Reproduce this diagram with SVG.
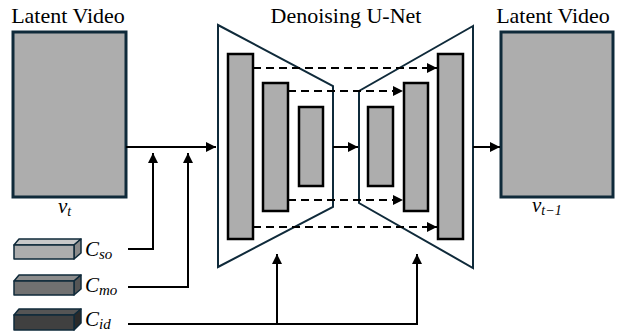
<svg xmlns="http://www.w3.org/2000/svg" width="618" height="335" viewBox="0 0 618 335">
  <defs>
    <marker id="ah" viewBox="0 0 10 10" refX="10" refY="5" markerWidth="10" markerHeight="10" markerUnits="userSpaceOnUse" orient="auto">
      <path d="M0,0 L10,5 L0,10 z" fill="#000"/>
    </marker>
  </defs>

  <!-- input latent -->
  <g id="latent-in">
    <text x="68" y="23" text-anchor="middle" font-family="Liberation Serif" font-size="22">Latent Video</text>
    <rect x="13" y="32" width="113" height="165" fill="#adadad" stroke="#0f2a3a" stroke-width="3"/>
    <text x="58" y="213" font-family="Liberation Serif" font-style="italic" font-size="21">v<tspan font-size="14" dy="3">t</tspan></text>
  </g>

  <!-- U-Net: encoder / decoder outlines and feature bars -->
  <g id="unet">
    <text x="346" y="23" text-anchor="middle" font-family="Liberation Serif" font-size="22">Denoising U-Net</text>
    <g fill="#fff" stroke="#0f2a3a" stroke-width="2">
      <polygon points="218,25 333,86 333,207 218,267"/>
      <polygon points="473,26 359,91 359,203 473,268"/>
    </g>
    <g fill="#adadad" stroke="#000" stroke-width="2.5">
      <rect x="228" y="54" width="25" height="185"/>
      <rect x="263" y="83" width="25" height="128"/>
      <rect x="299" y="107" width="24" height="79"/>
      <rect x="368" y="107" width="25" height="79"/>
      <rect x="404" y="83" width="24" height="128"/>
      <rect x="438" y="54" width="25" height="185"/>
    </g>
  </g>

  <!-- output latent -->
  <g id="latent-out">
    <text x="553" y="23" text-anchor="middle" font-family="Liberation Serif" font-size="22">Latent Video</text>
    <rect x="501" y="32" width="112" height="165" fill="#adadad" stroke="#0f2a3a" stroke-width="3"/>
    <text x="532" y="212" font-family="Liberation Serif" font-style="italic" font-size="21">v<tspan font-size="14" dy="3">t&#8722;1</tspan></text>
  </g>

  <!-- condition embeddings (small 3D bars) -->
  <g id="cond-so" stroke="#0f2a3a" stroke-width="1.5" stroke-linejoin="round">
    <polygon fill="#c8c8c8" points="14,245 19,239 81,239 74,245"/>
    <polygon fill="#8a8a8a" points="74,245 81,239 81,253 74,259"/>
    <rect fill="#adadad" x="14" y="245" width="60" height="14"/>
    <text x="85" y="256" stroke="none" font-family="Liberation Serif" font-style="italic" font-size="21">C<tspan font-size="15" dy="3">so</tspan></text>
  </g>
  <g id="cond-mo" stroke="#0f2a3a" stroke-width="1.5" stroke-linejoin="round">
    <polygon fill="#8c8c8c" points="14,281 19,275 81,275 74,281"/>
    <polygon fill="#555" points="74,281 81,275 81,289 74,295"/>
    <rect fill="#717171" x="14" y="281" width="60" height="14"/>
    <text x="85" y="292" stroke="none" font-family="Liberation Serif" font-style="italic" font-size="21">C<tspan font-size="15" dy="3">mo</tspan></text>
  </g>
  <g id="cond-id" stroke="#0f2a3a" stroke-width="1.5" stroke-linejoin="round">
    <polygon fill="#555" points="14,315 19,309 81,309 74,315"/>
    <polygon fill="#2a2a2a" points="74,315 81,309 81,323 74,330"/>
    <rect fill="#404040" x="14" y="315" width="60" height="15"/>
    <text x="85" y="326" stroke="none" font-family="Liberation Serif" font-style="italic" font-size="21">C<tspan font-size="15" dy="3">id</tspan></text>
  </g>

  <!-- connectors -->
  <g id="connectors" fill="none" stroke="#000" stroke-width="2">
    <line x1="126" y1="147" x2="216" y2="147" marker-end="url(#ah)"/>
    <polyline points="128,249 153,249 153,153" marker-end="url(#ah)"/>
    <polyline points="128,287 188,287 188,153" marker-end="url(#ah)"/>
    <line x1="128" y1="324" x2="418" y2="324"/>
    <line x1="277" y1="324" x2="277" y2="254" marker-end="url(#ah)"/>
    <line x1="417" y1="324" x2="417" y2="254" marker-end="url(#ah)"/>
    <line x1="333" y1="147" x2="358" y2="147" marker-end="url(#ah)"/>
    <line x1="473" y1="147" x2="500" y2="147" marker-end="url(#ah)"/>
    <g stroke-dasharray="8 5">
      <line x1="253" y1="68" x2="437" y2="68" marker-end="url(#ah)"/>
      <line x1="288" y1="91" x2="403" y2="91" marker-end="url(#ah)"/>
      <line x1="288" y1="200" x2="403" y2="200" marker-end="url(#ah)"/>
      <line x1="253" y1="227" x2="437" y2="227" marker-end="url(#ah)"/>
    </g>
  </g>
</svg>
